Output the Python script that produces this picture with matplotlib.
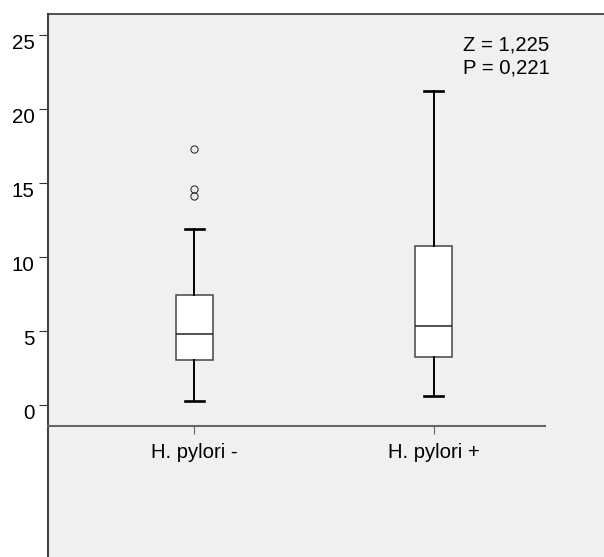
import matplotlib.pyplot as plt
import matplotlib.transforms as mtransforms
import numpy as np

plt.rcParams['font.family'] = ['Liberation Sans', 'DejaVu Sans']

# data
groups = ['H. pylori -', 'H. pylori +']
whis_lo = [0.29, 0.61]
q1 = [3.06, 3.24]
median = [4.80, 5.34]
q3 = [7.45, 10.72]
whis_hi = [11.91, 21.2]
outliers = [[17.3, 14.6, 14.1], []]
stat_lines = ['Z = 1,225', 'P = 0,221']

fig = plt.figure(figsize=(6.04, 5.57), dpi=100)
fig.patch.set_facecolor('white')
ax = fig.add_axes([48/604, 0, 1 - 48/604, 543/557])
ax.set_facecolor('#f0f0f0')

stats = []
for i in range(len(groups)):
    stats.append(dict(med=median[i], q1=q1[i], q3=q3[i],
                      whislo=whis_lo[i], whishi=whis_hi[i],
                      fliers=outliers[i]))

ax.bxp(stats, positions=[1, 2], widths=0.153, patch_artist=True,
       boxprops=dict(facecolor='white', edgecolor='#444444', linewidth=1.1),
       medianprops=dict(color='#222222', linewidth=1.1),
       whiskerprops=dict(color='black', linewidth=1.4),
       capprops=dict(color='black', linewidth=1.9),
       capwidths=0.078,
       flierprops=dict(marker='o', markersize=5.2, markerfacecolor='none',
                       markeredgecolor='#333333', markeredgewidth=0.8))

ax.set_xlim(0.389, 2.711)
ax.set_ylim(-10.27, 26.4)

# spines
ax.spines['right'].set_visible(False)
ax.spines['top'].set_color('#333333')
ax.spines['top'].set_linewidth(1.2)
ax.spines['left'].set_color('#444444')
ax.spines['left'].set_linewidth(1.5)
ax.spines['bottom'].set_position(('data', -1.42))
ax.spines['bottom'].set_bounds(0.389, 2.465)
ax.spines['bottom'].set_color('#666666')
ax.spines['bottom'].set_linewidth(1.5)

ax.set_yticks(np.arange(0, 26, 5))
ax.set_yticklabels([str(v) for v in range(0, 26, 5)], fontsize=14.8)
ax.tick_params(axis='y', length=6.5, width=0.8, pad=3, color='#333333')
# SPSS puts the value labels a little below their ticks
shift = mtransforms.ScaledTranslation(0, -7/100, fig.dpi_scale_trans)
for lab in ax.get_yticklabels():
    lab.set_transform(lab.get_transform() + shift)

ax.set_xticks([1, 2])
ax.set_xticklabels(groups, fontsize=14.6)
ax.tick_params(axis='x', length=6, width=0.8, pad=6, color='#666666')

ax.text(2.122, 24.32, stat_lines[0], fontsize=14.6, ha='left', va='center')
ax.text(2.122, 22.77, stat_lines[1], fontsize=14.6, ha='left', va='center')

fig.savefig('out.png', dpi=100)
